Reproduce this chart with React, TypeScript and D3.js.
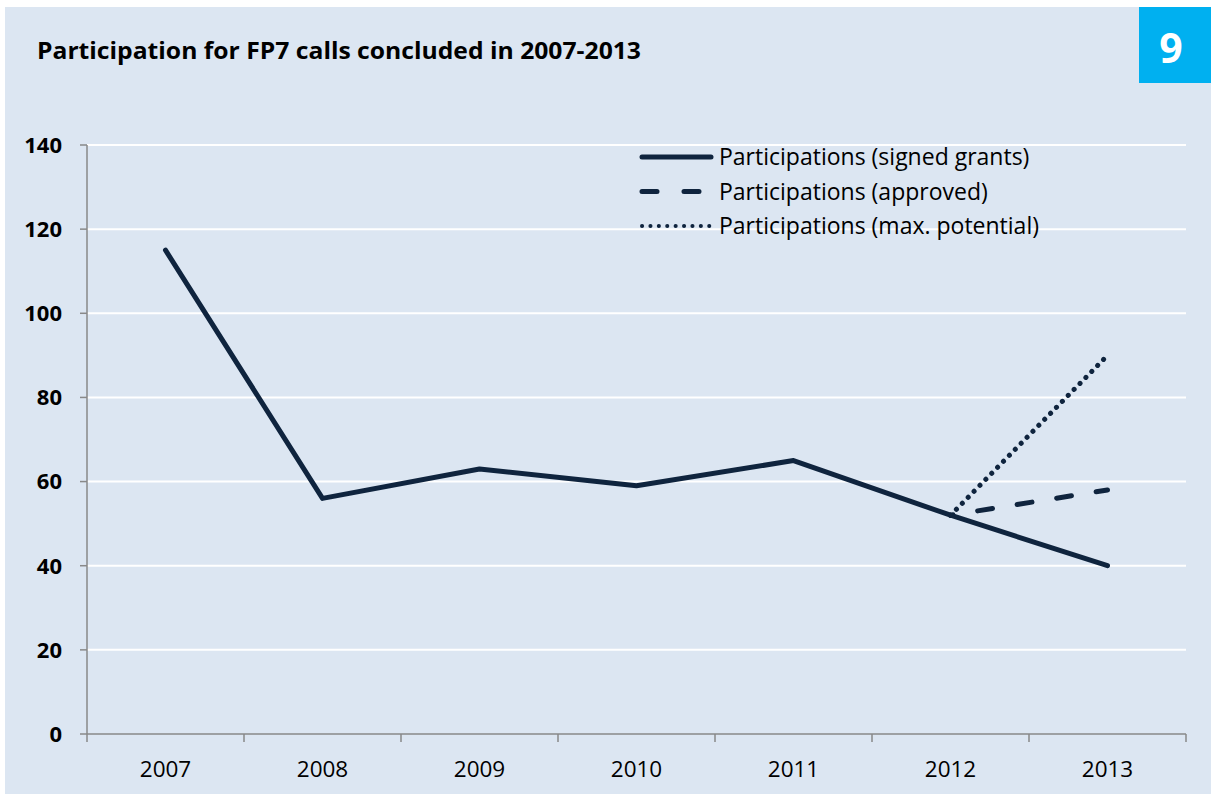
import React from "react";
import * as d3 from "d3";

const years = ["2007", "2008", "2009", "2010", "2011", "2012", "2013"];
const signed = [115, 56, 63, 59, 65, 52, 40];
const approvedYears = ["2012", "2013"];
const approved = [52, 58];
const potentialYears = ["2012", "2013"];
const potential = [52, 90];
const yTicks = [0, 20, 40, 60, 80, 100, 120, 140];
const legendLabels = [
  "Participations (signed grants)",
  "Participations (approved)",
  "Participations (max. potential)",
];

const W = 1211;
const H = 796;
const margin = { left: 87, right: 25, top: 145, bottom: 62 };
const navy = "#0f243e";
const font = "'Open Sans', sans-serif";

export default function App() {
  const x = d3
    .scaleBand()
    .domain(years)
    .range([margin.left, W - margin.right]);
  const y = d3
    .scaleLinear()
    .domain([0, 140])
    .range([H - margin.bottom, margin.top]);

  const cx = (d: string) => (x(d) as number) + x.bandwidth() / 2;
  const line = d3
    .line<[string, number]>()
    .x((d) => cx(d[0]))
    .y((d) => y(d[1]));

  const signedPath = line(years.map((d, i) => [d, signed[i]]));
  const approvedPath = line(approvedYears.map((d, i) => [d, approved[i]]));
  const potentialPath = line(potentialYears.map((d, i) => [d, potential[i]]));

  const x0 = margin.left;
  const x1 = W - margin.right;
  const yBase = y(0);
  const boundaries = years.map((d) => x(d) as number).concat([x1]);

  return (
    <svg
      width={W}
      height={H}
      style={{ position: "absolute", left: 0, top: 0, background: "#fff" }}
    >
      <rect x={5} y={7} width={W - 5} height={H - 9} fill="#dce6f2" />
      <rect x={1139} y={7} width={72} height={76} fill="#00b0f0" />
      <text
        x={1171}
        y={63}
        textAnchor="middle"
        fill="#fff"
        fontFamily={font}
        fontWeight="bold"
        fontSize={41}
      >
        9
      </text>
      <text
        x={37}
        y={59}
        fill="#000"
        fontFamily={font}
        fontWeight="bold"
        fontSize={23}
        textLength={604}
        lengthAdjust="spacingAndGlyphs"
      >
        Participation for FP7 calls concluded in 2007-2013
      </text>

      {yTicks
        .filter((t) => t > 0)
        .map((t) => (
          <line
            key={t}
            x1={x0}
            x2={x1}
            y1={y(t)}
            y2={y(t)}
            stroke="#fff"
            strokeWidth={2}
          />
        ))}

      <line x1={x0} x2={x0} y1={y(140)} y2={yBase} stroke="#898989" strokeWidth={1.5} />
      <line x1={x0} x2={x1} y1={yBase} y2={yBase} stroke="#898989" strokeWidth={1.5} />
      {yTicks.map((t) => (
        <g key={t}>
          <line x1={x0 - 7} x2={x0} y1={y(t)} y2={y(t)} stroke="#898989" strokeWidth={1.5} />
          <text
            x={62}
            y={y(t)}
            dy="0.36em"
            textAnchor="end"
            fontFamily={font}
            fontWeight="bold"
            fontSize={22}
            fill="#000"
          >
            {t}
          </text>
        </g>
      ))}
      {boundaries.map((b, i) => (
        <line key={i} x1={b} x2={b} y1={yBase} y2={yBase + 8} stroke="#898989" strokeWidth={1.5} />
      ))}
      {years.map((d) => (
        <text
          key={d}
          x={cx(d)}
          y={777}
          textAnchor="middle"
          fontFamily={font}
          fontSize={22.5}
          fill="#000"
        >
          {d}
        </text>
      ))}

      <path d={potentialPath || ""} fill="none" stroke={navy} strokeWidth={5} strokeLinecap="round" strokeDasharray="0.1 8.3" />
      <path d={approvedPath || ""} fill="none" stroke={navy} strokeWidth={5} strokeLinecap="round" strokeDasharray="15 25" strokeDashoffset={12.5} />
      <path d={signedPath || ""} fill="none" stroke={navy} strokeWidth={5} strokeLinecap="round" strokeLinejoin="round" />

      {legendLabels.map((l, i) => {
        const ly = 157 + i * 34.5;
        return (
          <g key={l}>
            <line
              x1={642}
              x2={711}
              y1={ly}
              y2={ly}
              stroke={navy}
              strokeWidth={i === 2 ? 4 : 5}
              strokeLinecap="round"
              strokeDasharray={i === 1 ? "15 27" : i === 2 ? "0.1 8.3" : undefined}
            />
            <text
              x={719}
              y={ly}
              dy="0.36em"
              fontFamily={font}
              fontSize={23}
              fill="#000"
            >
              {l}
            </text>
          </g>
        );
      })}
    </svg>
  );
}
